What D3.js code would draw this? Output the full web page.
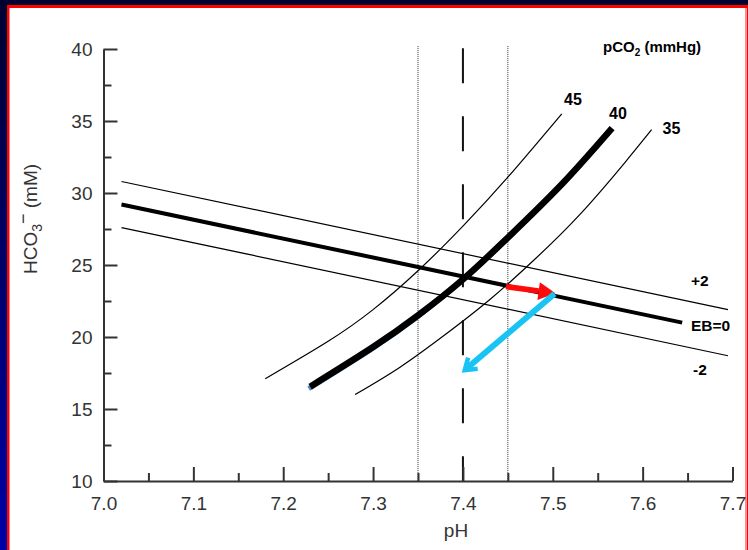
<!DOCTYPE html>
<html>
<head>
<meta charset="utf-8">
<script src="https://cdn.jsdelivr.net/npm/d3@7"></script>
<style>
  body { margin: 0; background: #000033; }
  svg { display: block; font-family: "Liberation Sans", Arial, sans-serif; }
</style>
</head>
<body>
<div id="chart"></div>
<script>
// ---- data ----
const phMajor = [7.0, 7.1, 7.2, 7.3, 7.4, 7.5, 7.6, 7.7]
const phMinor = [7.05, 7.15, 7.25, 7.35, 7.45, 7.55, 7.65]
const hco3Major = [10, 15, 20, 25, 30, 35, 40]
const hco3Minor = [12.5, 17.5, 22.5, 27.5, 32.5, 37.5]

// pCO2 isobars (pH, HCO3-)
const pco2_45 = [[7.18, 17.1], [7.25, 19.7], [7.30, 21.9], [7.35, 24.6], [7.40, 27.7], [7.45, 31.1], [7.51, 35.5]]
const pco2_40 = [[7.23, 16.55], [7.30, 19.3], [7.35, 21.5], [7.40, 24.0], [7.45, 26.9], [7.51, 30.6], [7.566, 34.5]]
const pco2_35 = [[7.28, 16.0], [7.33, 17.9], [7.38, 20.15], [7.43, 22.6], [7.48, 25.4], [7.53, 28.5], [7.58, 32.1], [7.61, 34.4]]

// buffer excess lines
const eb_plus2 = [[7.02, 30.8], [7.695, 21.9]]
const eb_zero = [[7.02, 29.2], [7.644, 21.0]]
const eb_minus2 = [[7.02, 27.6], [7.695, 18.7]]

// reference pH lines
const phNormal = 7.40
const phLimits = [7.35, 7.45]

// arrows (from, to)
const redArrow = [[7.448, 23.5], [7.503, 23.03]]
const blueArrow = [[7.502, 23.0], [7.402, 17.7]]

const W = 748, H = 550

const svg = d3.select("#chart").append("svg")
    .attr("width", W)
    .attr("height", H)

// background + frame
const defs = svg.append("defs")
const grad = defs.append("linearGradient").attr("id", "bg")
    .attr("x1", 0).attr("y1", 0).attr("x2", 0).attr("y2", 1)
grad.append("stop").attr("offset", "0%").attr("stop-color", "#000030")
grad.append("stop").attr("offset", "100%").attr("stop-color", "#0000a6")
svg.append("rect").attr("width", W).attr("height", H).attr("fill", "url(#bg)")
svg.append("rect").attr("x", 7).attr("y", 5).attr("width", 741).attr("height", 550).attr("fill", "#ff0000")
svg.append("rect").attr("x", 9.5).attr("y", 8).attr("width", 736).attr("height", 550).attr("fill", "#ffffff")
svg.append("rect").attr("x", 745.5).attr("y", 8).attr("width", 1.5).attr("height", 550).attr("fill", "#f29a9a")

const x = d3.scaleLinear().domain([7.0, 7.7]).range([103.5, 732.5])
const y = d3.scaleLinear().domain([10, 40]).range([481, 49])

const line = d3.line().x(d => x(d[0])).y(d => y(d[1]))
const smooth = d3.line().x(d => x(d[0])).y(d => y(d[1])).curve(d3.curveNatural)

// vertical reference lines
svg.selectAll(".lim").data(phLimits).join("line")
    .attr("x1", d => x(d)).attr("x2", d => x(d))
    .attr("y1", y(40.2)).attr("y2", y(10))
    .attr("stroke", "#333").attr("stroke-width", 1)
    .attr("stroke-dasharray", "1,1")

svg.append("line")
    .attr("x1", x(phNormal)).attr("x2", x(phNormal))
    .attr("y1", y(40.05)).attr("y2", y(10))
    .attr("stroke", "#111").attr("stroke-width", 2)
    .attr("stroke-dasharray", "35,33")

// EB lines
svg.append("path").attr("d", line(eb_plus2)).attr("fill", "none").attr("stroke", "#000").attr("stroke-width", 1.2)
svg.append("path").attr("d", line(eb_minus2)).attr("fill", "none").attr("stroke", "#000").attr("stroke-width", 1.2)
svg.append("path").attr("d", line(eb_zero)).attr("fill", "none").attr("stroke", "#000").attr("stroke-width", 4)

// pCO2 isobars
svg.append("path").attr("d", smooth(pco2_45)).attr("fill", "none").attr("stroke", "#000").attr("stroke-width", 1.2)
svg.append("path").attr("d", smooth(pco2_35)).attr("fill", "none").attr("stroke", "#000").attr("stroke-width", 1.2)
// blue smear under the thick 40 curve
svg.append("path").attr("d", smooth(pco2_40)).attr("fill", "none")
    .attr("stroke", "#2f74b5").attr("stroke-width", 5).attr("opacity", 0.85)
    .attr("transform", "translate(-1.5,2)")
svg.append("path").attr("d", smooth(pco2_40)).attr("fill", "none").attr("stroke", "#000").attr("stroke-width", 6.5)

// red arrow (filled head)
{
    const [p0, p1] = redArrow.map(d => [x(d[0]), y(d[1])])
    const a = Math.atan2(p1[1] - p0[1], p1[0] - p0[0])
    const hl = 17, hw = 9
    const bx = p1[0] - hl * Math.cos(a), by = p1[1] - hl * Math.sin(a)
    svg.append("line").attr("x1", p0[0]).attr("y1", p0[1]).attr("x2", bx).attr("y2", by)
        .attr("stroke", "#ff0a0a").attr("stroke-width", 5.5)
    svg.append("path")
        .attr("d", `M${p1[0]},${p1[1]}L${bx - hw * Math.sin(a)},${by + hw * Math.cos(a)}L${bx + hw * Math.sin(a)},${by - hw * Math.cos(a)}Z`)
        .attr("fill", "#ff0a0a")
}

// blue arrow (open head)
{
    const [p0, p1] = blueArrow.map(d => [x(d[0]), y(d[1])])
    const a = Math.atan2(p1[1] - p0[1], p1[0] - p0[0])
    const hl = 13, spread = 0.6
    const l1 = [p1[0] - hl * Math.cos(a - spread), p1[1] - hl * Math.sin(a - spread)]
    const l2 = [p1[0] - hl * Math.cos(a + spread), p1[1] - hl * Math.sin(a + spread)]
    svg.append("line").attr("x1", p0[0]).attr("y1", p0[1]).attr("x2", p1[0] - 2 * Math.cos(a)).attr("y2", p1[1] - 2 * Math.sin(a))
        .attr("stroke", "#19c3f3").attr("stroke-width", 6)
    svg.append("path").attr("d", `M${l1[0]},${l1[1]}L${p1[0]},${p1[1]}L${l2[0]},${l2[1]}`)
        .attr("fill", "none").attr("stroke", "#19c3f3").attr("stroke-width", 4.5)
        .attr("stroke-linejoin", "miter")
}

// axes
function styleAxis(g) {
    g.selectAll("line, path").attr("stroke", "#333").attr("stroke-width", 2)
    g.selectAll("text").attr("fill", "#333").attr("font-size", 19)
        .attr("font-family", "'Liberation Sans', Arial, sans-serif")
}

svg.append("g").attr("transform", `translate(0,${y(10)})`)
    .call(d3.axisBottom(x).tickValues(phMajor).tickFormat(d3.format(".1f"))
        .tickSize(-14).tickSizeOuter(0).tickPadding(16))
    .call(styleAxis)
svg.append("g").attr("transform", `translate(0,${y(10)})`)
    .call(d3.axisBottom(x).tickValues(phMinor).tickFormat("").tickSize(-8).tickSizeOuter(0))
    .call(g => g.select(".domain").remove())
    .call(styleAxis)

svg.append("g").attr("transform", `translate(${x(7.0)},0)`)
    .call(d3.axisLeft(y).tickValues(hco3Major).tickSize(-14).tickSizeOuter(0).tickPadding(11))
    .call(styleAxis)
svg.append("g").attr("transform", `translate(${x(7.0)},0)`)
    .call(d3.axisLeft(y).tickValues(hco3Minor).tickFormat("").tickSize(-8).tickSizeOuter(0))
    .call(g => g.select(".domain").remove())
    .call(styleAxis)

// axis titles
svg.append("text").attr("x", 456).attr("y", 537)
    .attr("text-anchor", "middle").attr("font-size", 19).attr("fill", "#333")
    .text("pH")

const yt = svg.append("text").attr("transform", "translate(37,219) rotate(-90)")
    .attr("text-anchor", "middle").attr("font-size", 19).attr("fill", "#333")
yt.append("tspan").text("HCO")
yt.append("tspan").attr("font-size", 14).attr("dy", 5).text("3")
yt.append("tspan").attr("font-size", 18).attr("dy", -13).text("\u2212")
yt.append("tspan").attr("dy", 8).text(" (mM)")

// annotations
const bold = svg.append("g").attr("font-weight", "bold").attr("fill", "#000")
const pt = bold.append("text").attr("x", 603).attr("y", 52).attr("font-size", 15)
pt.append("tspan").text("pCO")
pt.append("tspan").attr("font-size", 10).attr("dy", 4).text("2")
pt.append("tspan").attr("dy", -4).text(" (mmHg)")

const curveLabels = [["45", 564, 105], ["40", 609, 119], ["35", 662.5, 134]]
bold.selectAll(".cl").data(curveLabels).join("text")
    .attr("x", d => d[1]).attr("y", d => d[2]).attr("font-size", 16).text(d => d[0])

const ebLabels = [["+2", 691, 286], ["EB=0", 691, 331], ["-2", 693, 375]]
bold.selectAll(".el").data(ebLabels).join("text")
    .attr("x", d => d[1]).attr("y", d => d[2]).attr("font-size", 15.5).text(d => d[0])
</script>
</body>
</html>
